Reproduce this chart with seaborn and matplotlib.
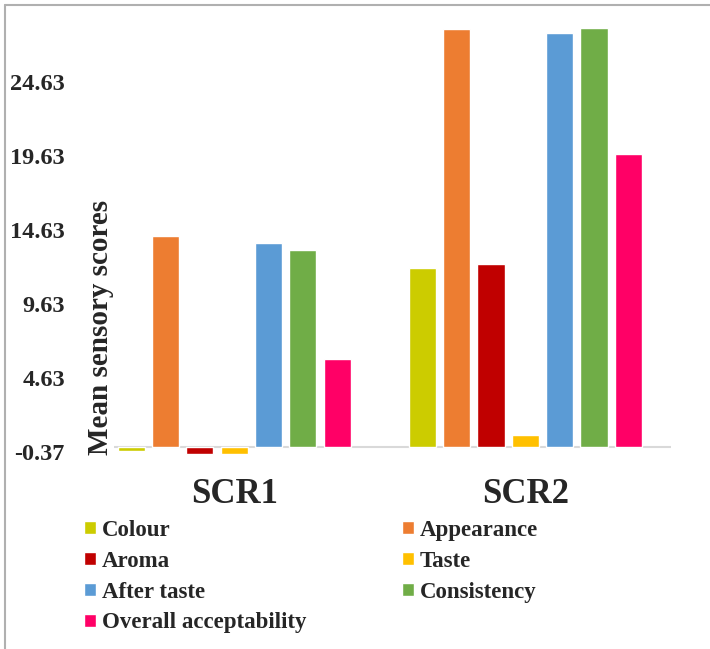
import matplotlib
matplotlib.use("Agg")
import matplotlib.pyplot as plt
from matplotlib.lines import Line2D
import seaborn as sns
import pandas as pd

samples = ["SCR1", "SCR2"]
attributes = ["Colour", "Appearance", "Aroma", "Taste", "After taste",
              "Consistency", "Overall acceptability"]
scr1 = [-0.3, 14.2, -0.5, -0.5, 13.75, 13.3, 5.9]
scr2 = [12.05, 28.2, 12.35, 0.78, 27.95, 28.25, 19.75]
yticks = [-0.37, 4.63, 9.63, 14.63, 19.63, 24.63]
colors = ["#CCCC00", "#ED7D31", "#C00000", "#FFC000", "#5B9BD5",
          "#70AD47", "#FF0066"]

df = pd.DataFrame({
    "sample": [samples[0]] * len(attributes) + [samples[1]] * len(attributes),
    "attribute": attributes * 2,
    "score": scr1 + scr2,
})

sns.set_style("white")
plt.rcParams["font.family"] = ["Liberation Serif", "DejaVu Serif"]
plt.rcParams["font.weight"] = "bold"

fig = plt.figure(figsize=(7.10, 6.49), dpi=100)
ax = fig.add_axes([0.1246, 0.2983, 0.8204, 0.6818])

sns.barplot(data=df, x="sample", y="score", hue="attribute",
            hue_order=attributes, palette=colors, width=0.825, gap=0.21,
            saturation=1, ax=ax, legend=True)

ax.axhline(0, color="#d9d9d9", lw=1.5, zorder=0)
ax.set_xlim(-0.5, 1.5)
ax.set_ylim(-0.6, 29.3)
ax.set_yticks(yticks)
ax.set_yticklabels([f"{t:.2f}" for t in yticks], fontsize=17.5, fontweight="bold")
ax.tick_params(axis="y", length=0, pad=17)
ax.tick_params(axis="x", length=0, pad=16, labelsize=25)
for lab in ax.get_xticklabels():
    lab.set_fontweight("bold")
ax.set_xlabel("")
ax.set_ylabel("")
for s in ax.spines.values():
    s.set_visible(False)

fig.text(0.141, 0.496, "Mean sensory scores", rotation=90, ha="center",
         va="center", fontsize=21, fontweight="bold",
         bbox=dict(facecolor="white", edgecolor="none", pad=0.5), zorder=10)

# legend in row order like the original (two columns)
handles, labels = ax.get_legend_handles_labels()
ax.get_legend().remove()
order = [0, 2, 4, 6, 1, 3, 5]
fig.legend([handles[i] for i in order], [labels[i] for i in order],
           ncol=2, loc="upper left", bbox_to_anchor=(0.119, 0.199),
           frameon=False, handlelength=0.5, handleheight=0.5,
           handletextpad=0.25, columnspacing=4.2, labelspacing=0.43,
           borderaxespad=0, borderpad=0, prop={"weight": "bold", "size": 16.5})

# chart frame (left and top edges visible in the crop)
fig.add_artist(Line2D([4.5 / 710, 4.5 / 710], [0, 1 - 5 / 649],
                      transform=fig.transFigure, color="#b0b0b0", lw=1.5))
fig.add_artist(Line2D([4.5 / 710, 1], [1 - 5 / 649, 1 - 5 / 649],
                      transform=fig.transFigure, color="#b0b0b0", lw=1.5))

fig.savefig("out.png", dpi=100)
